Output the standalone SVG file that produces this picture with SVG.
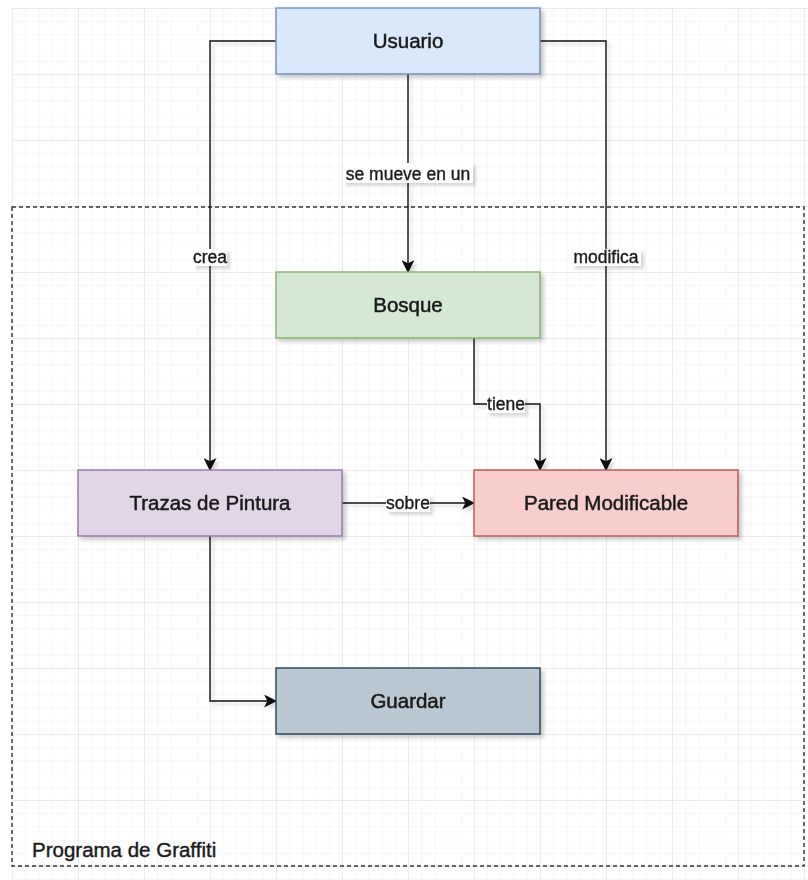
<svg xmlns="http://www.w3.org/2000/svg" width="808" height="880" viewBox="0 0 808 880">
  <defs>
    <pattern id="minor" x="12" y="8" width="13.2" height="13.2" patternUnits="userSpaceOnUse">
      <path d="M0 0 H13.2 M0 0 V13.2" fill="none" stroke="#efefef" stroke-width="1"/>
    </pattern>
    <pattern id="major" x="12" y="8" width="66" height="66" patternUnits="userSpaceOnUse">
      <path d="M0 0 H66 M0 0 V66" fill="none" stroke="#e2e2e2" stroke-width="1"/>
    </pattern>
    <filter id="sh" x="-10%" y="-20%" width="130%" height="150%">
      <feDropShadow dx="3" dy="3" stdDeviation="2" flood-color="#000" flood-opacity="0.22"/>
    </filter>
    <filter id="shl" x="-10%" y="-10%" width="130%" height="130%">
      <feDropShadow dx="3" dy="3" stdDeviation="1.5" flood-color="#000" flood-opacity="0.15"/>
    </filter>
    <marker id="arr" viewBox="0 0 12 12" refX="11" refY="6" markerWidth="13" markerHeight="13" markerUnits="userSpaceOnUse" orient="auto">
      <path d="M0 0 L12 6 L0 12 L3 6 Z" fill="#111"/>
    </marker>
    <style>
      .node rect { stroke-width: 1.4; }
      .nt { font-family: "Liberation Sans", Arial, sans-serif; font-size: 20.5px; fill: #1a1a1a; stroke: #1a1a1a; stroke-width: 0.5; text-anchor: middle; }
      .lt { font-family: "Liberation Sans", Arial, sans-serif; font-size: 17.5px; fill: #1a1a1a; stroke: #1a1a1a; stroke-width: 0.35; text-anchor: middle; }
      .edge { fill: none; stroke: #111; stroke-width: 1.4; }
      .lbg { fill: #fff; }
    </style>
  </defs>

  <rect x="0" y="0" width="808" height="880" fill="#fff"/>
  <rect x="12" y="8" width="796" height="872" fill="url(#minor)"/>
  <rect x="12" y="8" width="796" height="872" fill="url(#major)"/>

  <g id="container">
    <rect x="12" y="207" width="792" height="659" fill="none" stroke="#333" stroke-width="1.4" stroke-dasharray="4 3"/>
    <text x="32" y="857" font-family="Liberation Sans, Arial, sans-serif" font-size="20.5" fill="#1a1a1a" stroke="#1a1a1a" stroke-width="0.4">Programa de Graffiti</text>
  </g>

  <g id="connectors" filter="url(#shl)">
    <path class="edge" d="M276 41 H210 V470" marker-end="url(#arr)"/>
    <path class="edge" d="M540 41 H606 V470" marker-end="url(#arr)"/>
    <path class="edge" d="M408 74 V272" marker-end="url(#arr)"/>
    <path class="edge" d="M474 338 V404 H540 V470" marker-end="url(#arr)"/>
    <path class="edge" d="M342 503 H474" marker-end="url(#arr)"/>
    <path class="edge" d="M210 536 V701 H276" marker-end="url(#arr)"/>
    <g id="labels">
      <rect class="lbg" x="343" y="163" width="130" height="20"/>
      <text class="lt" x="408" y="180">se mueve en un</text>
      <rect class="lbg" x="193" y="249" width="34" height="17"/>
      <text class="lt" x="210" y="263">crea</text>
      <rect class="lbg" x="572" y="249" width="69" height="17"/>
      <text class="lt" x="606" y="263">modifica</text>
      <rect class="lbg" x="487" y="396" width="38" height="17"/>
      <text class="lt" x="506" y="410">tiene</text>
      <rect class="lbg" x="386" y="495" width="44" height="17"/>
      <text class="lt" x="408" y="509">sobre</text>
    </g>
  </g>

  <g id="usuario" class="node" filter="url(#sh)">
    <rect x="276" y="8" width="264" height="66" fill="#dae8fc" stroke="#6c8ebf"/>
    <text class="nt" x="408" y="48">Usuario</text>
  </g>
  <g id="bosque" class="node" filter="url(#sh)">
    <rect x="276" y="272" width="264" height="66" fill="#d5e8d4" stroke="#82b366"/>
    <text class="nt" x="408" y="312">Bosque</text>
  </g>
  <g id="trazas" class="node" filter="url(#sh)">
    <rect x="78" y="470" width="264" height="66" fill="#e1d5e7" stroke="#9673a6"/>
    <text class="nt" x="210" y="510">Trazas de Pintura</text>
  </g>
  <g id="pared" class="node" filter="url(#sh)">
    <rect x="474" y="470" width="264" height="66" fill="#f8cecc" stroke="#b85450"/>
    <text class="nt" x="606" y="510">Pared Modificable</text>
  </g>
  <g id="guardar" class="node" filter="url(#sh)">
    <rect x="276" y="668" width="264" height="66" fill="#bac8d3" stroke="#23445d"/>
    <text class="nt" x="408" y="708">Guardar</text>
  </g>
</svg>
